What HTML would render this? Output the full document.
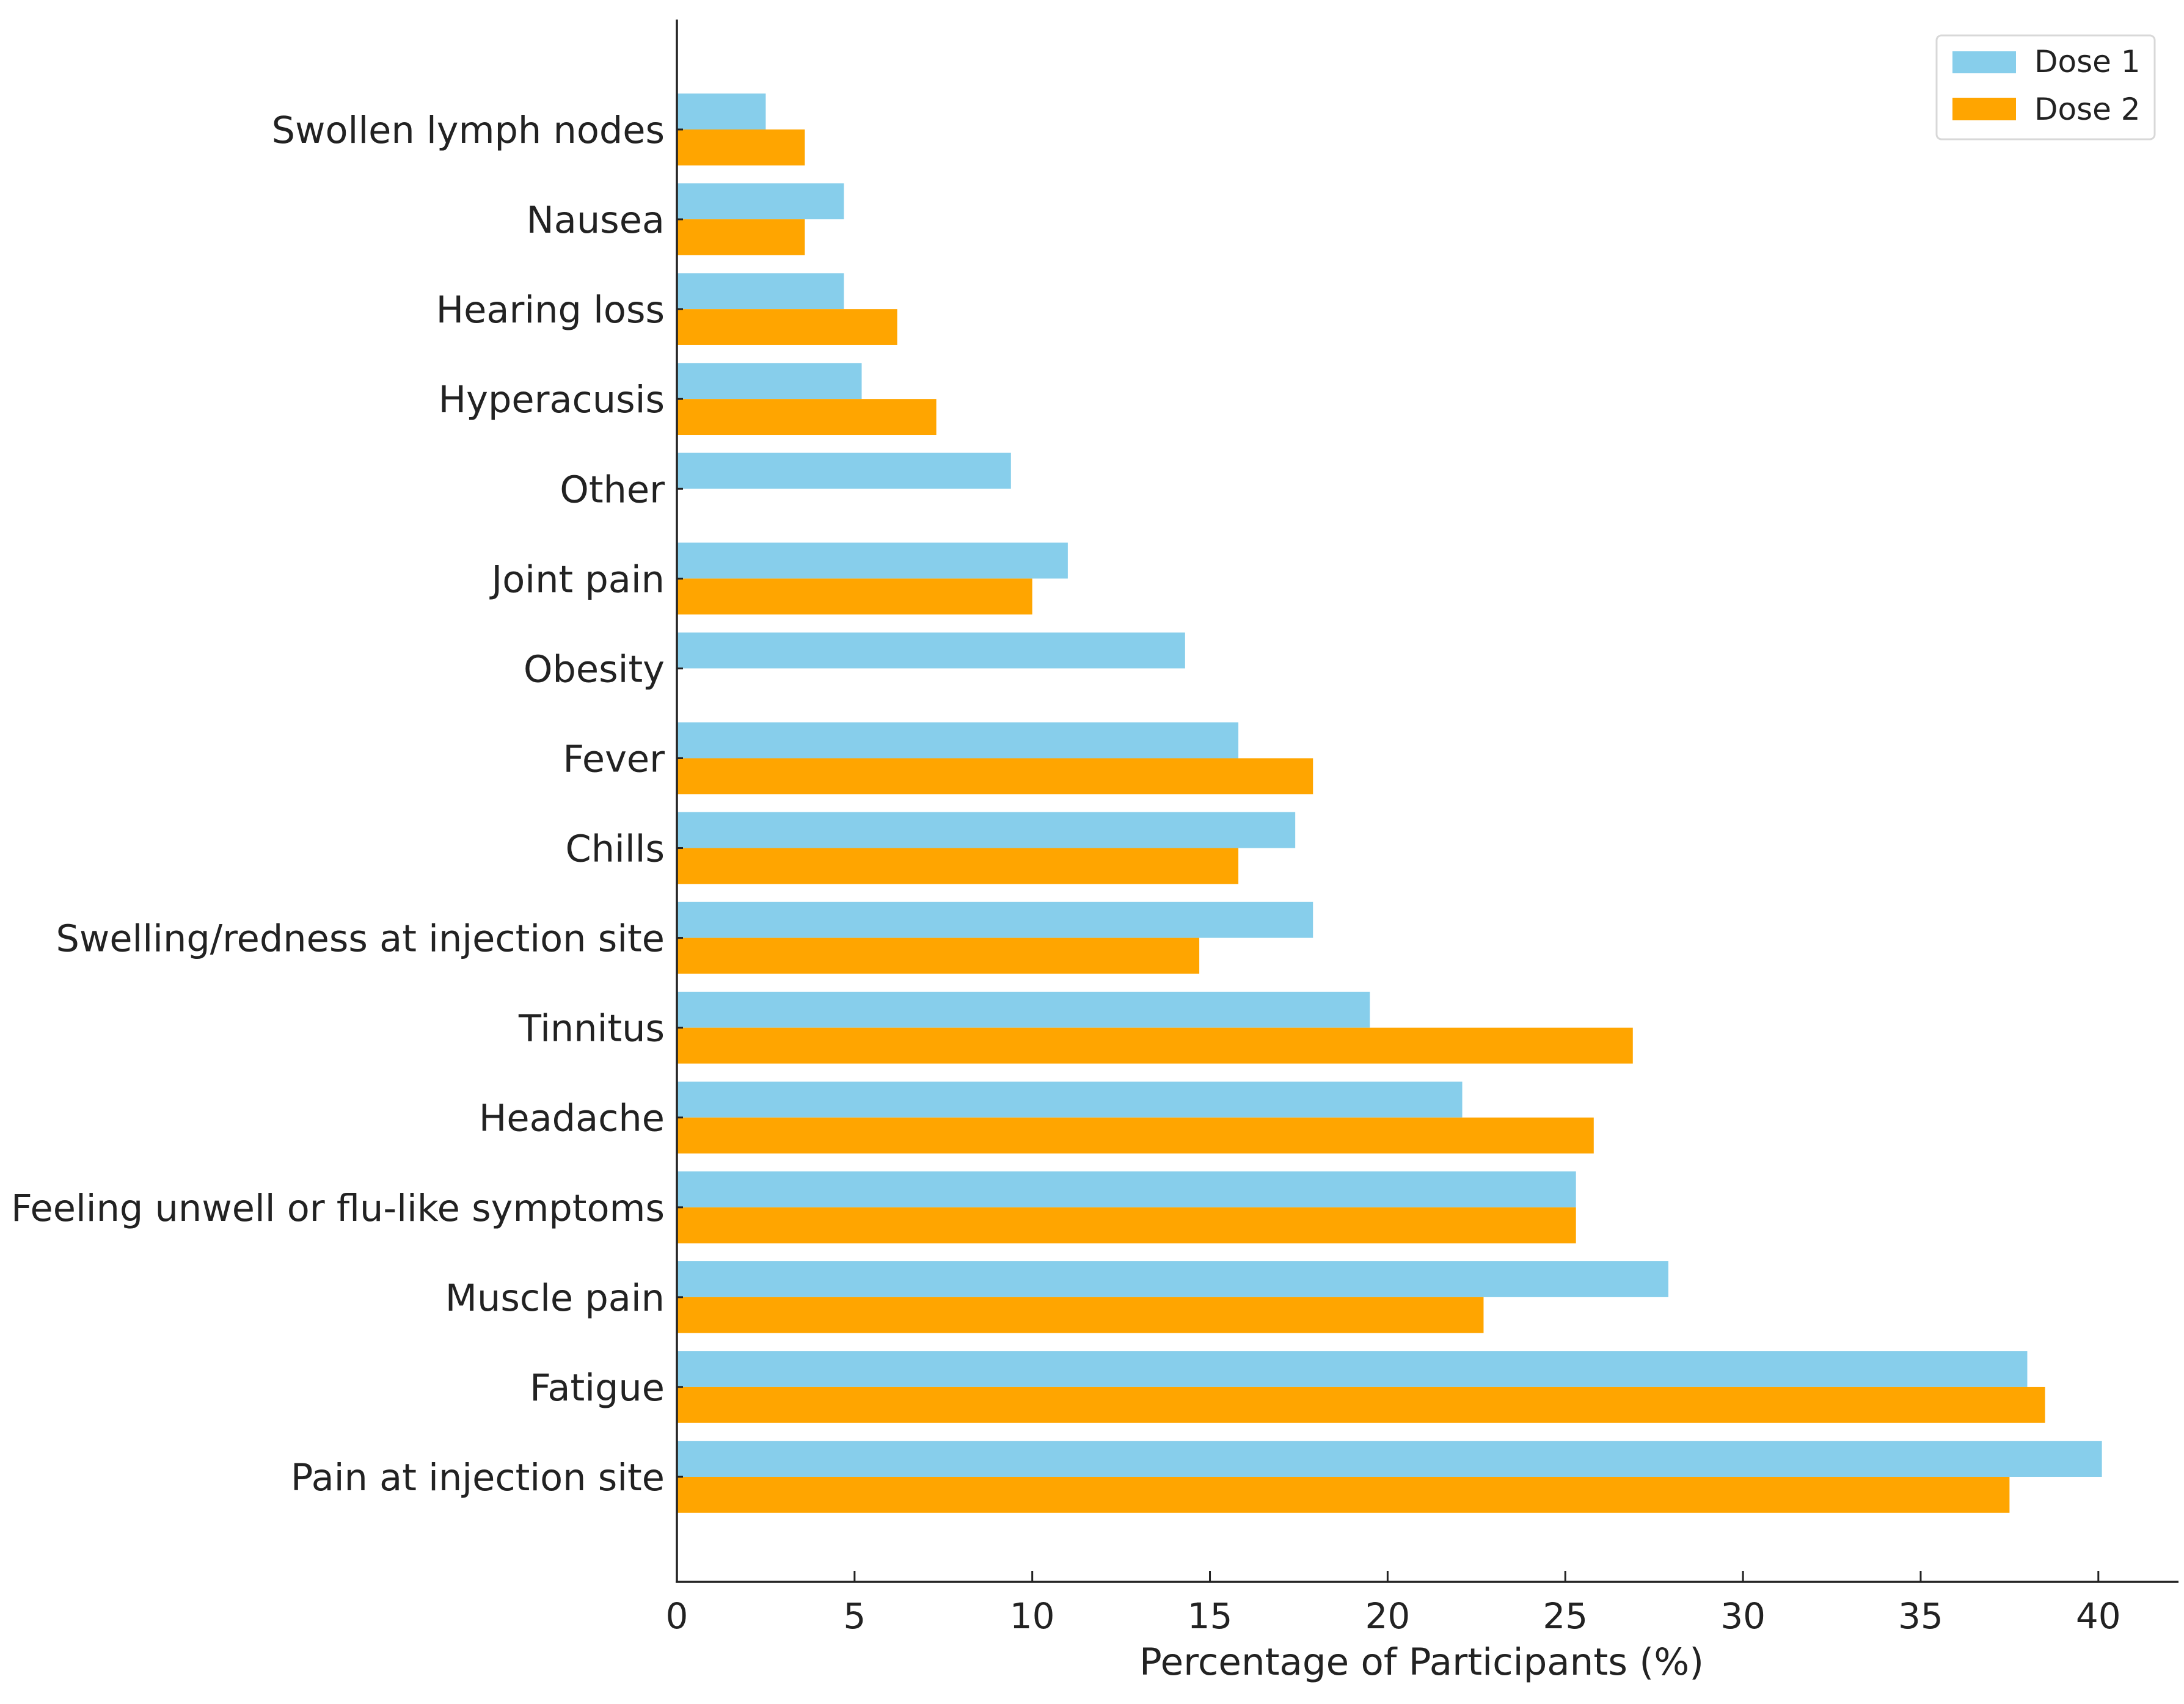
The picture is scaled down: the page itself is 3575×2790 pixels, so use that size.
<!DOCTYPE html>
<html><head><meta charset="utf-8"><style>
html,body{margin:0;padding:0;background:#fff;}
svg{display:block;font-family:"DejaVu Sans","Liberation Sans",sans-serif;}
</style></head><body>
<svg id="chart" width="3575" height="2790" viewBox="0 0 3575 2790" xmlns="http://www.w3.org/2000/svg">
<rect x="0" y="0" width="3575" height="2790" fill="#fff"/>
<g id="bars"></g>
<g id="axes"></g>
<g id="legend">
  <rect x="3170" y="58" width="357" height="170" rx="8" fill="#fff" stroke="#d8d8d8" stroke-width="3"/>
  <rect x="3196" y="84" width="104" height="36" fill="#87CEEB"/>
  <text x="3330" y="118" font-size="50" fill="#222">Dose 1</text>
  <rect x="3196" y="160" width="104" height="37" fill="#FFA500"/>
  <text x="3330" y="196" font-size="50" fill="#222">Dose 2</text>
</g>
</svg>
<script>
const categories = ["Swollen lymph nodes","Nausea","Hearing loss","Hyperacusis","Other","Joint pain","Obesity","Fever","Chills","Swelling/redness at injection site","Tinnitus","Headache","Feeling unwell or flu-like symptoms","Muscle pain","Fatigue","Pain at injection site"];
const dose1 = [2.5,4.7,4.7,5.2,9.4,11.0,14.3,15.8,17.4,17.9,19.5,22.1,25.3,27.9,38.0,40.1];
const dose2 = [3.6,3.6,6.2,7.3,0,10.0,0,17.9,15.8,14.7,26.9,25.8,25.3,22.7,38.5,37.5];
const xTicks = [0,5,10,15,20,25,30,35,40];
const xTitle = "Percentage of Participants (%)";

const NS="http://www.w3.org/2000/svg";
const x0=1108, pxPerUnit=58.17;
const yFirst=212, yLast=2418;
const step=(yLast-yFirst)/(categories.length-1);
const barH=step*0.4;
function xs(v){return x0+v*pxPerUnit;}
function ys(i){return yFirst+i*step;}
function mk(tag,attrs,parent){const e=document.createElementNS(NS,tag);for(const k in attrs)e.setAttribute(k,attrs[k]);parent.appendChild(e);return e;}
const bars=document.getElementById('bars');
const axes=document.getElementById('axes');
categories.forEach((c,i)=>{
  const cy=ys(i);
  const b1=mk('rect',{x:xs(0),y:cy-barH,width:xs(dose1[i])-xs(0),height:barH,fill:'#87CEEB'},bars);
  
  
  const b2=mk('rect',{x:xs(0),y:cy,width:xs(dose2[i])-xs(0),height:barH,fill:'#FFA500'},bars);
  
  
  const t=mk('text',{x:1088,y:cy+22,'font-size':60.5,'text-anchor':'end',fill:'#222'},axes);
  t.textContent=c;
  
  
  const tk=mk('line',{x1:x0,x2:x0+10,y1:cy,y2:cy,stroke:'#222','stroke-width':3},axes);
  
  
});
const ya=mk('line',{x1:x0,x2:x0,y1:32,y2:2591,stroke:'#222','stroke-width':3.5},axes);


const xa=mk('line',{x1:x0-2,x2:3566,y1:2590,y2:2590,stroke:'#222','stroke-width':3.5},axes);


xTicks.forEach(v=>{
  const l=mk('line',{x1:xs(v),x2:xs(v),y1:2572,y2:2590,stroke:'#222','stroke-width':3},axes);
  
  
  const t=mk('text',{x:xs(v),y:2666,'font-size':58,'text-anchor':'middle',fill:'#222'},axes);
  t.textContent=String(v);
  
  
});
const tt=mk('text',{x:2327,y:2742,'font-size':61,'text-anchor':'middle',fill:'#222'},axes);
tt.textContent=xTitle;


</script>
</body></html>
